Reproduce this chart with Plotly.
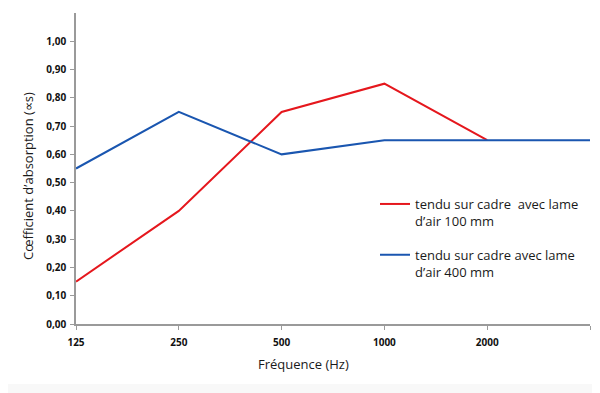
import plotly.graph_objects as go

freq_labels = ["125", "250", "500", "1000", "2000", ""]
red_values = [0.15, 0.40, 0.75, 0.85, 0.65]
blue_values = [0.55, 0.75, 0.60, 0.65, 0.65, 0.65]
y_ticks = [0.0, 0.1, 0.2, 0.3, 0.4, 0.5, 0.6, 0.7, 0.8, 0.9, 1.0]
y_tick_labels = ["0,00", "0,10", "0,20", "0,30", "0,40", "0,50", "0,60", "0,70", "0,80", "0,90", "1,00"]
red_name = "tendu sur cadre  avec lame<br>d’air 100 mm"
blue_name = "tendu sur cadre avec lame<br>d’air 400 mm"

x_pos = list(range(len(freq_labels)))
font = "Open Sans"

# page body has an 8px margin; figure is sized so that it fills the visible window
W, H = 592, 385
L, R, T, B = 68, 10, 5, 69
PW, PH = W - L - R, H - T - B

fig = go.Figure()
fig.add_trace(go.Scatter(x=x_pos[:len(red_values)], y=red_values, mode="lines",
                         line=dict(color="#e5171d", width=2), name=red_name, legendgroup="a"))
fig.add_trace(go.Scatter(x=x_pos[:len(blue_values)], y=blue_values, mode="lines",
                         line=dict(color="#1a56b0", width=2), name=blue_name, legendgroup="b"))

fig.update_layout(
    width=W, height=H,
    margin=dict(l=L, r=R, t=T, b=B),
    plot_bgcolor="white", paper_bgcolor="white",
    font=dict(family=font, color="#1a1a1a"),
    showlegend=True,
    legend=dict(x=(367 - L) / PW, y=1 - (181 - T) / PH, xanchor="left", yanchor="top",
                font=dict(size=13, color="#1a1a1a"), valign="top",
                tracegroupgap=14, bgcolor="rgba(0,0,0,0)"),
    xaxis=dict(range=[0, 5], tickvals=x_pos, ticktext=freq_labels,
               showgrid=False, zeroline=False, showline=True, linecolor="#9a9a9a", linewidth=1.5,
               ticks="outside", ticklen=4, tickcolor="#9a9a9a", ticklabelstandoff=4,
               tickfont=dict(size=10, weight="bold", color="#111111")),
    yaxis=dict(range=[0, 1.1], tickvals=y_ticks, ticktext=y_tick_labels,
               showgrid=False, zeroline=False, showline=True, linecolor="#9a9a9a", linewidth=1.5,
               ticks="outside", ticklen=4, tickcolor="#9a9a9a", ticklabelstandoff=2,
               tickfont=dict(size=10, weight="bold", color="#111111")),
    annotations=[
        dict(text="Fréquence (Hz)", xref="paper", yref="paper",
             x=(295 - L) / PW, y=-(356 - (H - B)) / PH, xanchor="center", yanchor="middle",
             showarrow=False, font=dict(size=13, color="#1a1a1a")),
        dict(text="Cœfficient d’absorption (∝s)", xref="paper", yref="paper",
             x=(20 - L) / PW, y=1 - (168 - T) / PH, xanchor="center", yanchor="middle", textangle=-90,
             showarrow=False, font=dict(size=13, color="#1a1a1a")),
    ],
    shapes=[dict(type="rect", xref="paper", yref="paper", x0=-L / PW, x1=1 + R / PW,
                 y0=-(H - (H - B)) / PH, y1=-(376 - (H - B)) / PH,
                 fillcolor="#f8f8f8", line=dict(width=0), layer="below")],
)

fig.write_html("out.html")
